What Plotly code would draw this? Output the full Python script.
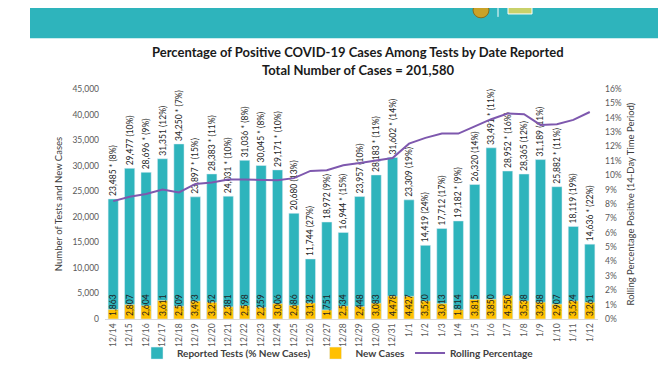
import plotly.graph_objects as go

FONT = "Lato, 'Open Sans', sans-serif"

dates = ["12/14", "12/15", "12/16", "12/17", "12/18", "12/19", "12/20", "12/21", "12/22", "12/23",
         "12/24", "12/25", "12/26", "12/27", "12/28", "12/29", "12/30", "12/31", "1/1", "1/2",
         "1/3", "1/4", "1/5", "1/6", "1/7", "1/8", "1/9", "1/10", "1/11", "1/12"]
tests = [23485, 29477, 28696, 31351, 34250, 23897, 28383, 24031, 31036, 30045,
         29171, 20680, 11744, 18972, 16944, 23957, 28183, 31602, 23309, 14419,
         17712, 19182, 26320, 33491, 28952, 28365, 31189, 25882, 18119, 14636]
pct_new_cases = [8, 10, 9, 12, 7, 15, 11, 10, 8, 8,
                 10, 13, 27, 9, 15, 10, 11, 14, 19, 24,
                 17, 9, 14, 11, 16, 12, 11, 11, 19, 22]
starred = [1, 0, 1, 0, 1, 1, 1, 1, 1, 1,
           1, 0, 0, 0, 1, 0, 1, 1, 0, 0,
           0, 1, 0, 1, 1, 0, 0, 1, 0, 1]
new_cases = [1863, 2807, 2604, 3611, 2509, 3493, 3252, 2381, 2598, 2259,
             3006, 2686, 3132, 1751, 2534, 2448, 3083, 4478, 4427, 3520,
             3013, 1814, 3815, 3850, 4550, 3538, 3288, 2907, 3524, 3261]
rolling_pct = [8.2, 8.5, 8.7, 9.0, 8.8, 9.4, 9.5, 9.7, 9.7, 9.7,
               9.65, 9.8, 10.3, 10.35, 10.7, 10.85, 11.0, 11.2, 12.2, 12.6,
               12.9, 12.9, 13.4, 13.9, 14.3, 14.25, 13.5, 13.55, 13.85, 14.4]

test_labels = [f"{t:,}{' *' if s else ''} ({p}%)" for t, s, p in zip(tests, starred, pct_new_cases)]
case_labels = [f"{c:,}" for c in new_cases]

TEAL = "#2EB4BC"
GOLD = "#FFC000"
PURPLE = "#7E58AE"

fig = go.Figure()
fig.add_bar(x=dates, y=tests, name="Reported Tests (% New Cases)", marker_color=TEAL,
            width=0.62, text=test_labels, textposition="outside", textangle=-90,
            constraintext="none", cliponaxis=False,
            textfont=dict(family=FONT, size=8.5, color="#1f1f1f"))
fig.add_bar(x=dates, y=new_cases, name="New Cases", marker_color=GOLD,
            width=0.62, text=case_labels, textposition="inside", insidetextanchor="start",
            textangle=-90, constraintext="none",
            textfont=dict(family=FONT, size=8.5, color="#1f1f1f"))
fig.add_scatter(x=dates, y=[p / 100 for p in rolling_pct], yaxis="y2", mode="lines",
                name="Rolling Percentage", line=dict(color=PURPLE, width=2))

L, R, T, B = 97, 82, 81, 55
W, H = 672, 372
PW, PH = W - L - R, H - T - B

def px(x):
    return (x - L) / PW

def py(y):
    return (H - B - y) / PH

fig.update_layout(
    width=W, height=H, autosize=False,
    margin=dict(l=L, r=R, t=T, b=B),
    paper_bgcolor="white", plot_bgcolor="white",
    barmode="overlay",
    font=dict(family=FONT, color="#404040"),
    showlegend=True,
    legend=dict(orientation="h", x=px(330), xanchor="center", y=py(352), yanchor="middle",
                font=dict(family=FONT, size=10, color="#404040", weight="bold"),
                traceorder="normal", itemwidth=30, bgcolor="rgba(0,0,0,0)"),
    xaxis=dict(type="category", tickangle=-90, showgrid=False, zeroline=False,
               showline=True, linecolor="#D9D9D9", linewidth=1,
               tickfont=dict(family=FONT, size=8.5, color="#595959")),
    yaxis=dict(range=[0, 45000], tickvals=list(range(0, 45001, 5000)), tickformat=",",
               showgrid=False, zeroline=False, ticklabelstandoff=5,
               tickfont=dict(family=FONT, size=8.5, color="#595959"),
               title=dict(text="Number of Tests and New Cases", standoff=8,
                          font=dict(family=FONT, size=9.5, color="#404040"))),
    yaxis2=dict(range=[0, 0.16], tickvals=[i / 100 for i in range(0, 17)], tickformat=".0%",
                overlaying="y", side="right", showgrid=False, zeroline=False,
                ticklabelstandoff=6,
                tickfont=dict(family=FONT, size=8.5, color="#595959"),
                title=dict(text="Rolling Percentage Positive (14-Day Time Period)", standoff=6,
                           font=dict(family=FONT, size=9.5, color="#404040"))),
    shapes=[
        dict(type="rect", xref="paper", yref="paper", x0=px(22), x1=px(650), y0=py(29), y1=py(-5),
             fillcolor=TEAL, line=dict(width=0), layer="above"),
        dict(type="circle", xref="paper", yref="paper", x0=px(465), x1=px(481), y0=py(8), y1=py(-8),
             fillcolor="#C9A227", line=dict(width=1, color="#8a6d1a"), layer="above"),
        dict(type="line", xref="paper", yref="paper", x0=px(490), x1=px(490), y0=py(7), y1=py(-2),
             line=dict(width=1, color="white"), layer="above"),
        dict(type="rect", xref="paper", yref="paper", x0=px(500), x1=px(524), y0=py(4), y1=py(-4),
             fillcolor="#C8D16A", line=dict(width=1, color="white"), layer="above"),
    ],
    annotations=[
        dict(text="<b>Percentage of Positive COVID-19 Cases Among Tests by Date Reported</b>",
             xref="paper", yref="paper", x=px(350), y=py(43), xanchor="center", yanchor="middle",
             showarrow=False, font=dict(family=FONT, size=13, color="#1a1a1a")),
        dict(text="<b>Total Number of Cases = 201,580</b>",
             xref="paper", yref="paper", x=px(350), y=py(61), xanchor="center", yanchor="middle",
             showarrow=False, font=dict(family=FONT, size=13, color="#1a1a1a")),
    ],
)

fig.write_html("out.html")
